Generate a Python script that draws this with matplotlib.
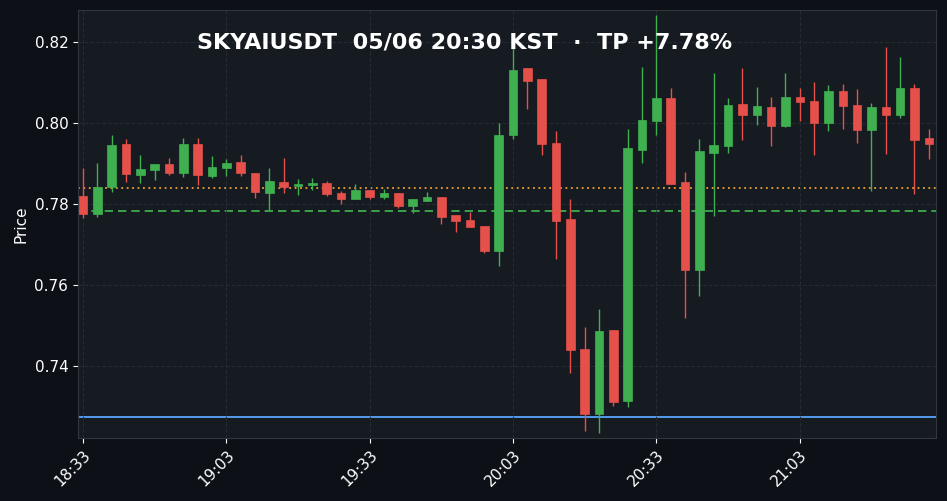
import matplotlib
matplotlib.use("Agg")
import matplotlib.pyplot as plt
from matplotlib.patches import Rectangle

opens  = [0.7820,0.7776,0.7842,0.7948,0.7872,0.7884,0.7899,0.7876,0.7948,0.7869,
          0.7889,0.7903,0.7877,0.7827,0.7855,0.7844,0.7847,0.7851,0.7827,0.7812,
          0.7834,0.7817,0.7827,0.7795,0.7807,0.7817,0.7773,0.7761,0.7745,0.7684,
          0.7970,0.8136,0.8109,0.7950,0.7763,0.7442,0.7282,0.7489,0.7313,0.7933,
          0.8005,0.8062,0.7854,0.7638,0.7926,0.7943,0.8047,0.8020,0.8039,0.7993,
          0.8064,0.8054,0.8000,0.8079,0.8044,0.7983,0.8039,0.8020,0.8086,0.7963]
closes = [0.7776,0.7842,0.7946,0.7874,0.7886,0.7899,0.7876,0.7948,0.7871,0.7891,
          0.7901,0.7876,0.7830,0.7857,0.7842,0.7849,0.7851,0.7825,0.7812,0.7834,
          0.7817,0.7827,0.7795,0.7812,0.7817,0.7768,0.7759,0.7742,0.7684,0.7970,
          0.8131,0.8104,0.7948,0.7758,0.7439,0.7282,0.7486,0.7311,0.7938,0.8007,
          0.8062,0.7849,0.7638,0.7931,0.7946,0.8044,0.8020,0.8042,0.7993,0.8064,
          0.8052,0.8000,0.8079,0.8042,0.7983,0.8039,0.8020,0.8086,0.7958,0.7948]
highs  = [0.7888,0.7901,0.7970,0.7960,0.7921,0.7899,0.7914,0.7962,0.7963,0.7918,
          0.7911,0.7921,0.7877,0.7888,0.7913,0.7861,0.7864,0.7857,0.7832,0.7849,
          0.7834,0.7837,0.7827,0.7812,0.7829,0.7817,0.7773,0.7779,0.7745,0.7999,
          0.8200,0.8136,0.8109,0.7980,0.7812,0.7496,0.7541,0.7489,0.7985,0.8138,
          0.8267,0.8086,0.7879,0.7960,0.8123,0.8062,0.8136,0.8089,0.8064,0.8123,
          0.8086,0.8101,0.8094,0.8096,0.8084,0.8049,0.8188,0.8163,0.8096,0.7985]
lows   = [0.7766,0.7769,0.7829,0.7854,0.7851,0.7859,0.7871,0.7866,0.7846,0.7864,
          0.7869,0.7869,0.7815,0.7785,0.7827,0.7822,0.7834,0.7820,0.7800,0.7812,
          0.7812,0.7812,0.7790,0.7778,0.7807,0.7751,0.7731,0.7742,0.7679,0.7647,
          0.7961,0.8034,0.7921,0.7664,0.7382,0.7239,0.7234,0.7301,0.7298,0.7901,
          0.7970,0.7849,0.7518,0.7573,0.7770,0.7926,0.7958,0.7995,0.7943,0.7990,
          0.8005,0.7921,0.7980,0.7985,0.7951,0.7832,0.7923,0.8012,0.7825,0.7911]
tick_pos = [0, 10, 20, 30, 40, 50]
tick_labels = ["18:33", "19:03", "19:33", "20:03", "20:33", "21:03"]
entry_price = 0.7782
level_orange = 0.7839
stop_price = 0.7273
title = "SKYAIUSDT  05/06 20:30 KST  ·  TP +7.78%"

UP, DN = "#3fb04f", "#e5504a"
fig = plt.figure(figsize=(9.47, 5.01), dpi=100, facecolor="#0d1117")
ax = fig.add_axes([78/947, 1-438/501, (936-78)/947, (438-10)/501])
ax.set_facecolor("#161a21")
for i, (o, c, h, l) in enumerate(zip(opens, closes, highs, lows)):
    col = UP if c >= o else DN
    ax.vlines(i, l, h, color=col, linewidth=1, zorder=2)
    ax.add_patch(Rectangle((i-0.3, min(o, c)), 0.6, max(abs(c-o), 0.0002),
                           facecolor=col, edgecolor=col, linewidth=0.5, zorder=3))
ax.axhline(entry_price, color="#3fb950", linestyle=(0, (5, 3)), linewidth=1.2, zorder=1)
ax.axhline(level_orange, color="#f0a030", linestyle=(0, (1, 2)), linewidth=1.3, zorder=1)
ax.axhline(stop_price, color="#58a6ff", linewidth=1.3, zorder=1)
ax.set_xlim(-0.35, 59.5)
ax.set_ylim(0.7222, 0.8279)
ax.set_yticks([0.74, 0.76, 0.78, 0.80, 0.82])
ax.set_xticks(tick_pos)
ax.set_xticklabels(tick_labels, rotation=45, ha="right", rotation_mode="anchor")
ax.tick_params(colors="white", labelsize=11)
ax.set_ylabel("Price", color="white", fontsize=11)
ax.grid(True, color="#262b33", linestyle="--", linewidth=0.8, zorder=0)
for s in ax.spines.values():
    s.set_color("#30363d")
ax.text(0.451, 0.925, title, transform=ax.transAxes, ha="center", va="center",
        color="white", fontsize=16, fontweight="bold")
fig.savefig("out.png", dpi=100, facecolor=fig.get_facecolor())
